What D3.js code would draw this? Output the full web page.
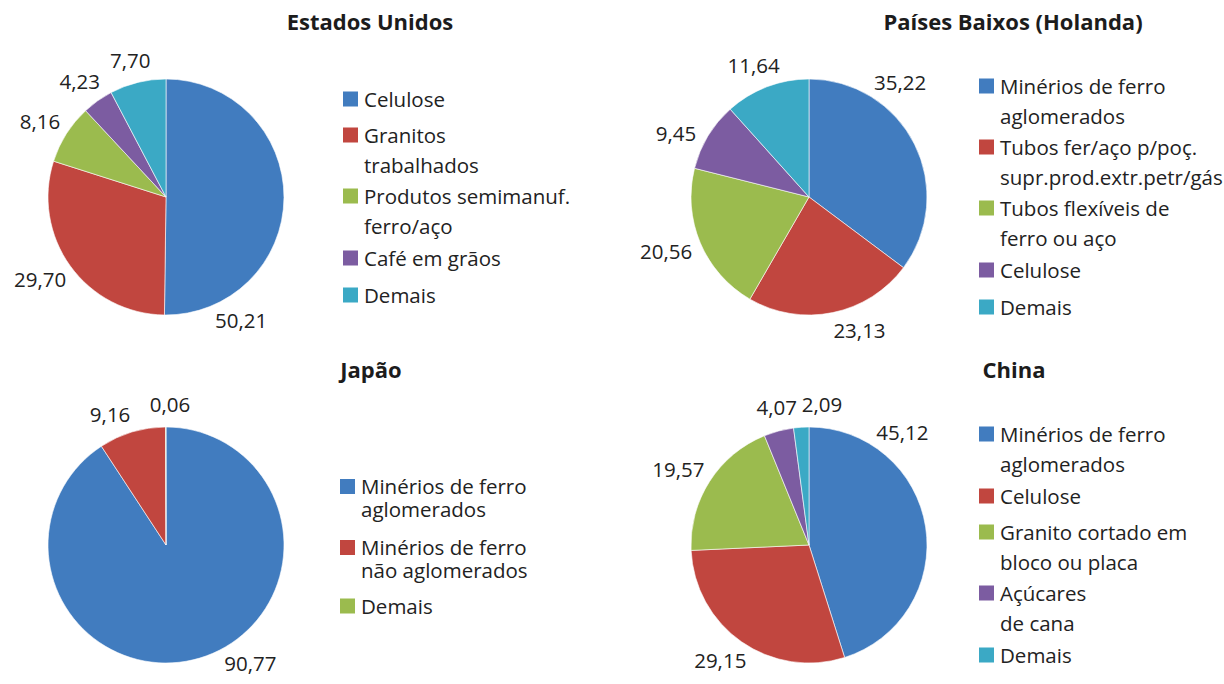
<!DOCTYPE html>
<html>
<head>
<meta charset="utf-8">
<script src="https://cdn.jsdelivr.net/npm/d3@7"></script>
<style>
  body { margin: 0; background: #fff; }
  svg { display: block; font-family: "Open Sans", sans-serif; }
</style>
</head>
<body>
<div id="chart"></div>
<script>
// data
var usCategories = ["Celulose", "Granitos|trabalhados", "Produtos semimanuf.|ferro/aço", "Café em grãos", "Demais"];
var usValues = [50.21, 29.70, 8.16, 4.23, 7.70];

var nlCategories = ["Minérios de ferro|aglomerados", "Tubos fer/aço p/poç.|supr.prod.extr.petr/gás", "Tubos flexíveis de|ferro ou aço", "Celulose", "Demais"];
var nlValues = [35.22, 23.13, 20.56, 9.45, 11.64];

var jpCategories = ["Minérios de ferro|aglomerados", "Minérios de ferro|não aglomerados", "Demais"];
var jpValues = [90.77, 9.16, 0.06];

var cnCategories = ["Minérios de ferro|aglomerados", "Celulose", "Granito cortado em|bloco ou placa", "Açúcares|de cana", "Demais"];
var cnValues = [45.12, 29.15, 19.57, 4.07, 2.09];

var colors = ["#417cbf", "#c1463f", "#9bbb4e", "#7c5ca1", "#3ba9c5"];

var width = 1224, height = 684;
var radius = 118;

var svg = d3.select("#chart").append("svg")
  .attr("width", width)
  .attr("height", height);

// labelAngles: Excel "best fit" moves some labels away from the slice middle (degrees, null = middle)
var charts = [
  { title: "Estados Unidos", cats: usCategories, vals: usValues, cx: 166, cy: 197,
    titleX: 370, titleY: 30, legendX: 343, lineH: 30, labelAngles: [151, null, null, null, null] },
  { title: "Países Baixos (Holanda)", cats: nlCategories, vals: nlValues, cx: 809, cy: 197,
    titleX: 1013, titleY: 30, legendX: 979, lineH: 30, labelAngles: [36, 161, null, 297, null] },
  { title: "Japão", cats: jpCategories, vals: jpValues, cx: 166, cy: 545,
    titleX: 371, titleY: 378, legendX: 340, lineH: 23, labelAngles: [147, 338, 1.5] },
  { title: "China", cats: cnCategories, vals: cnValues, cx: 809, cy: 545,
    titleX: 1014, titleY: 378, legendX: 979, lineH: 30, labelAngles: [37, null, null, 347.5, 5] }
];

function fmt(v) {
  return v.toFixed(2).replace(".", ",");
}

function drawPie(c) {
  var g = svg.append("g");

  g.append("text")
    .attr("x", c.titleX)
    .attr("y", c.titleY)
    .attr("text-anchor", "middle")
    .style("font-weight", "bold")
    .style("font-size", "22px")
    .style("fill", "#1c1c1c")
    .text(c.title);

  var pie = d3.pie().sort(null).value(function(d) { return d; });
  var arcs = pie(c.vals);
  var arc = d3.arc().innerRadius(0).outerRadius(radius);

  var pg = g.append("g")
    .attr("transform", "translate(" + c.cx + "," + c.cy + ")");

  pg.selectAll("path")
    .data(arcs)
    .enter()
    .append("path")
      .attr("d", arc)
      .attr("fill", function(d, i) { return colors[i]; })
      .attr("stroke", "#fff")
      .attr("stroke-width", 0.6);

  // value labels outside the pie
  pg.selectAll("text.val")
    .data(arcs)
    .enter()
    .append("text")
      .attr("class", "val")
      .attr("text-anchor", "middle")
      .style("font-size", "20.5px")
      .style("fill", "#222")
      .text(function(d) { return fmt(d.value); })
      .each(function(d, i) {
        var a = c.labelAngles[i] != null ? c.labelAngles[i] * Math.PI / 180 : (d.startAngle + d.endAngle) / 2;
        var ux = Math.sin(a), uy = -Math.cos(a);
        var w = this.getComputedTextLength();
        var x = (radius + 8) * ux + ux * (w / 2 + 3);
        var y = (radius + 8) * uy + uy * 15;
        d3.select(this).attr("x", x).attr("y", y + 7.5);
      });

  // legend, vertically centred on the pie
  var slots = c.cats.map(function(s) { return s.split("|").length > 1 ? 61 : 37; });
  var total = d3.sum(slots);
  var top = c.cy - total / 2;
  var lg = g.append("g");

  c.cats.forEach(function(s, i) {
    var lines = s.split("|");
    var mid = top + d3.sum(slots.slice(0, i)) + slots[i] / 2;
    var first = mid - (lines.length - 1) * c.lineH / 2 + (lines.length > 1 ? 2 : 0);

    lg.append("rect")
      .attr("x", c.legendX)
      .attr("y", first - 7.5)
      .attr("width", 15)
      .attr("height", 15)
      .attr("fill", colors[i]);

    var t = lg.append("text")
      .attr("x", c.legendX + 21)
      .attr("y", first + 7.5)
      .style("font-size", "20.5px")
      .style("fill", "#222");

    lines.forEach(function(l, j) {
      t.append("tspan")
        .attr("x", c.legendX + 21)
        .attr("dy", j == 0 ? 0 : c.lineH)
        .text(l);
    });
  });
}

charts.forEach(drawPie);
</script>
</body>
</html>
